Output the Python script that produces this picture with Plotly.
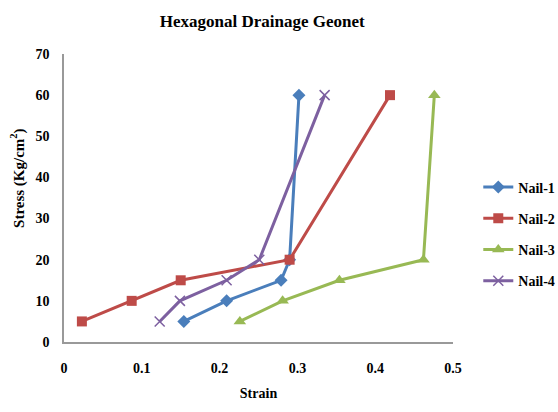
import plotly.graph_objects as go

# Strain readings for each nail at the applied stress levels
nail1_strain = [0.154, 0.209, 0.279, 0.290, 0.302]
nail1_stress = [5, 10, 15, 20, 60]

nail2_strain = [0.023, 0.087, 0.150, 0.290, 0.419]
nail2_stress = [5, 10, 15, 20, 60]

nail3_strain = [0.226, 0.281, 0.354, 0.462, 0.476]
nail3_stress = [5, 10, 15, 20, 60]

nail4_strain = [0.123, 0.149, 0.209, 0.251, 0.335]
nail4_stress = [5, 10, 15, 20, 60]

series_names = ["Nail-1", "Nail-2", "Nail-3", "Nail-4"]
x_ticks = [0, 0.1, 0.2, 0.3, 0.4, 0.5]
x_tick_text = ["0", "0.1", "0.2", "0.3", "0.4", "0.5"]
y_ticks = [0, 10, 20, 30, 40, 50, 60, 70]

FONT = "Liberation Serif"

styles = [
    dict(color="#4A7EBB", symbol="diamond", size=10),
    dict(color="#BE4B48", symbol="square", size=10),
    dict(color="#98B954", symbol="triangle-up", size=11),
    dict(color="#7D60A0", symbol="x-thin-open", size=10),
]

data = [
    (nail1_strain, nail1_stress),
    (nail2_strain, nail2_stress),
    (nail3_strain, nail3_stress),
    (nail4_strain, nail4_stress),
]

fig = go.Figure()
for name, (xs, ys), st in zip(series_names, data, styles):
    marker = dict(color=st["color"], symbol=st["symbol"], size=st["size"])
    if st["symbol"] == "x-thin-open":
        marker["line"] = dict(color=st["color"], width=1.5)
    fig.add_trace(go.Scatter(
        x=xs, y=ys, name=f"<b>{name}</b>", legendgroup=name,
        mode="lines+markers",
        line=dict(color=st["color"], width=3),
        marker=marker,
    ))

fig.update_layout(
    width=558, height=412,
    margin=dict(l=64, r=105, t=54, b=70, autoexpand=False),
    paper_bgcolor="white", plot_bgcolor="white",
    font=dict(family=FONT, size=14, color="black"),
    title=dict(
        text="<b>Hexagonal Drainage Geonet</b>",
        font=dict(family=FONT, size=17, color="black"),
        x=0.47, xanchor="center", y=0.95, yanchor="middle",
    ),
    legend=dict(
        x=1.065, xanchor="left", y=0.375, yanchor="middle",
        font=dict(family=FONT, size=14, color="black"),
        tracegroupgap=10,
        itemwidth=30,
        bgcolor="rgba(0,0,0,0)",
    ),
    showlegend=True,
)

# Vertical axis title, placed slightly above the axis midpoint
fig.add_annotation(
    text="<b>Stress (Kg/cm<sup>2</sup>)</b>",
    xref="paper", yref="paper", x=-0.118, y=0.57,
    xanchor="center", yanchor="middle",
    textangle=-90, showarrow=False,
    font=dict(family=FONT, size=15, color="black"),
)

fig.update_xaxes(
    range=[0, 0.5], tickvals=x_ticks,
    ticktext=[f"<b>{t}</b>" for t in x_tick_text],
    showgrid=False, zeroline=False,
    showline=True, linecolor="#999999", linewidth=1.5,
    ticks="", ticklabelstandoff=12,
    tickfont=dict(family=FONT, size=14, color="black"),
    title=dict(text="<b>Strain</b>", font=dict(family=FONT, size=14), standoff=14),
)
fig.update_yaxes(
    range=[0, 70], tickvals=y_ticks,
    ticktext=[f"<b>{t}</b>" for t in y_ticks],
    showgrid=False, zeroline=False,
    showline=True, linecolor="#999999", linewidth=1.5,
    ticks="", ticklabelstandoff=10,
    tickfont=dict(family=FONT, size=14, color="black"),
)

fig.write_html("out.html")
